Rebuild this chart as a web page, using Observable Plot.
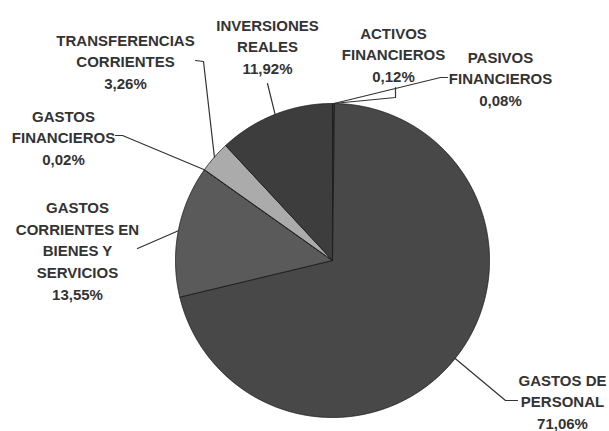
<!DOCTYPE html>
<html>
<head>
<meta charset="utf-8">
<script src="https://cdn.jsdelivr.net/npm/d3@7"></script>
<script src="https://cdn.jsdelivr.net/npm/@observablehq/plot@0.6"></script>
<style>
  html, body { margin: 0; padding: 0; background: #fff; }
</style>
</head>
<body>
<div id="chart"></div>
<script>
// ---- data ----
const categories = [
  "ACTIVOS FINANCIEROS",
  "PASIVOS FINANCIEROS",
  "GASTOS DE PERSONAL",
  "GASTOS CORRIENTES EN BIENES Y SERVICIOS",
  "GASTOS FINANCIEROS",
  "TRANSFERENCIAS CORRIENTES",
  "INVERSIONES REALES"
];
const values = [0.12, 0.08, 71.06, 13.55, 0.02, 3.26, 11.92];
const valueLabels = ["0,12%", "0,08%", "71,06%", "13,55%", "0,02%", "3,26%", "11,92%"];
const labelLines = [
  ["ACTIVOS", "FINANCIEROS"],
  ["PASIVOS", "FINANCIEROS"],
  ["GASTOS DE", "PERSONAL"],
  ["GASTOS", "CORRIENTES EN", "BIENES Y", "SERVICIOS"],
  ["GASTOS", "FINANCIEROS"],
  ["TRANSFERENCIAS", "CORRIENTES"],
  ["INVERSIONES", "REALES"]
];
const colors = ["#f4f4f4", "#d4d4d4", "#484848", "#5a5a5a", "#7a7a7a", "#ababab", "#3d3d3d"];

// ---- layout (pixels) ----
const W = 609, H = 431, CX = 332, CY = 260, R = 157;
const labelPos = [[393, 53], [500, 77], [562, 400], [77, 249], [63, 136], [125, 60], [267, 45]];
const leaderBends = [
  [[395, 97], [395, 87]],
  [[440, 77], [447, 77]],
  [[505, 400], [517, 400]],
  [[137, 248]],
  [[122, 135], [115, 135]],
  [[203, 61], [195, 60]],
  [[267, 83]]
];
const ux = px => (px - CX) / R;
const uy = py => (CY - py) / R;

const rows = categories.map((name, i) => ({name, value: values[i], i}));
const arcs = d3.pie().sort(null).value(d => d.value)(rows);

const slicePts = [];
const leaderPts = [];
arcs.forEach(p => {
  const key = p.data.name;
  const span = p.endAngle - p.startAngle;
  const n = Math.max(2, Math.ceil(span / 0.004));
  slicePts.push({key, x: 0, y: 0});
  for (let k = 0; k <= n; k++) {
    const a = p.startAngle + span * k / n;
    slicePts.push({key, x: Math.sin(a), y: Math.cos(a)});
  }
  slicePts.push({key, x: 0, y: 0});
  const mid = (p.startAngle + p.endAngle) / 2;
  leaderPts.push({key, x: Math.sin(mid), y: Math.cos(mid)});
  leaderBends[p.data.i].forEach(([bx, by]) => leaderPts.push({key, x: ux(bx), y: uy(by)}));
});

const labelRows = rows.map(r => ({
  x: ux(labelPos[r.i][0]),
  y: uy(labelPos[r.i][1]),
  text: [...labelLines[r.i], valueLabels[r.i]].join("\n")
}));

const chart = Plot.plot({
  width: W,
  height: H,
  margin: 0,
  x: {domain: [ux(0), ux(W)], range: [0, W], axis: null},
  y: {domain: [uy(H), uy(0)], range: [H, 0], axis: null},
  color: {domain: categories, range: colors},
  style: {background: "#fff"},
  marks: [
    Plot.line(slicePts, {x: "x", y: "y", z: "key", fill: "key", stroke: "#1e1e1e", strokeWidth: 0.9, curve: "linear"}),
    Plot.line(leaderPts, {x: "x", y: "y", z: "key", stroke: "#333", strokeWidth: 1.2, curve: "linear"}),
    Plot.text(labelRows, {
      x: "x", y: "y", text: "text",
      textAnchor: "middle", lineAnchor: "middle", lineHeight: 1.45,
      fontSize: 15, fontWeight: "bold", fill: "#333",
      fontFamily: "'Liberation Sans', Arial, sans-serif"
    })
  ]
});
document.getElementById("chart").appendChild(chart);
</script>
</body>
</html>
